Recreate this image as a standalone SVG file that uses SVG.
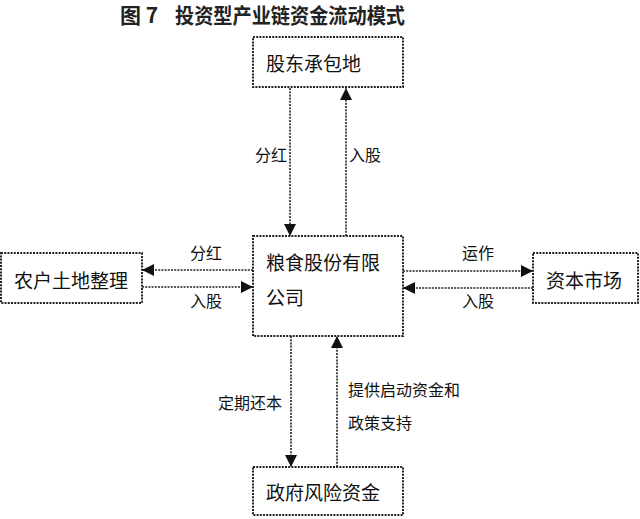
<svg xmlns="http://www.w3.org/2000/svg" width="640" height="519" viewBox="0 0 640 519">
<defs>
<style>
.box{fill:#fff;stroke:#222;stroke-width:2;stroke-dasharray:2 1.2}
.ln{fill:none;stroke:#222;stroke-width:1.6;stroke-dasharray:2 1.2}
.bt{font-family:"Liberation Serif","Noto Sans CJK SC",serif;font-size:19px;fill:#111}
.lb{font-family:"Liberation Serif","Noto Sans CJK SC",serif;font-size:16px;fill:#111}
.tt{font-family:"Noto Sans CJK SC",sans-serif;font-size:21px;font-weight:bold;fill:#222}
</style>
<marker id="ah" viewBox="0 0 10 10" refX="10" refY="5" markerWidth="12" markerHeight="12" markerUnits="userSpaceOnUse" orient="auto">
<path d="M0,0 L10,5 L0,10 Z" fill="#111"/>
</marker>
</defs>
<rect width="640" height="519" fill="#fff"/>
<g id="title">
<text class="tt" x="120" y="23">图 7</text>
<text class="tt" x="175" y="23" textLength="230" lengthAdjust="spacingAndGlyphs">投资型产业链资金流动模式</text>
</g>
<g id="connectors">
<line class="ln" x1="290" y1="88" x2="290" y2="236" marker-end="url(#ah)"/>
<line class="ln" x1="346" y1="236" x2="346" y2="88" marker-end="url(#ah)"/>
<line class="ln" x1="253" y1="270" x2="142" y2="270" marker-end="url(#ah)"/>
<line class="ln" x1="142" y1="287" x2="253" y2="287" marker-end="url(#ah)"/>
<line class="ln" x1="403" y1="271" x2="533" y2="271" marker-end="url(#ah)"/>
<line class="ln" x1="533" y1="288" x2="403" y2="288" marker-end="url(#ah)"/>
<line class="ln" x1="291" y1="336" x2="291" y2="467" marker-end="url(#ah)"/>
<line class="ln" x1="337" y1="467" x2="337" y2="336" marker-end="url(#ah)"/>
<text class="lb" x="255" y="161">分红</text>
<text class="lb" x="349" y="161">入股</text>
<text class="lb" x="190" y="259">分红</text>
<text class="lb" x="190" y="307">入股</text>
<text class="lb" x="462" y="259">运作</text>
<text class="lb" x="462" y="307">入股</text>
<text class="lb" x="218" y="409">定期还本</text>
<text class="lb" x="348" y="396">提供启动资金和</text>
<text class="lb" x="348" y="429">政策支持</text>
</g>
<g id="n-shareholders">
<rect class="box" x="253" y="37" width="150" height="50"/>
<text class="bt" x="266" y="71">股东承包地</text>
</g>
<g id="n-company">
<rect class="box" x="253" y="236" width="150" height="100"/>
<text class="bt" x="266" y="270">粮食股份有限</text>
<text class="bt" x="266" y="305">公司</text>
</g>
<g id="n-farmers">
<rect class="box" x="1" y="253" width="141" height="50"/>
<text class="bt" x="14" y="288">农户土地整理</text>
</g>
<g id="n-capital">
<rect class="box" x="533" y="253" width="105" height="50"/>
<text class="bt" x="546" y="288">资本市场</text>
</g>
<g id="n-gov">
<rect class="box" x="253" y="467" width="150" height="48"/>
<text class="bt" x="266" y="500">政府风险资金</text>
</g>
</svg>
